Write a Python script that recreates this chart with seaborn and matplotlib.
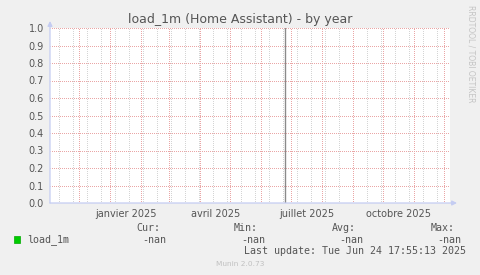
import numpy as np
import pandas as pd
import matplotlib
matplotlib.use("Agg")
import matplotlib.pyplot as plt
import matplotlib.dates as mdates
from matplotlib.patches import Rectangle
import seaborn as sns

# ---- data ----
title = "load_1m (Home Assistant) - by year"
series_name = "load_1m"
times = ["2024-11-02 00:00:00", "2025-06-24 17:55:13", "2025-12-07 00:00:00"]
load_1m = [np.nan, np.nan, np.nan]
last_update_time = "2025-06-24 17:55:13"
x_label_texts = ["janvier 2025", "avril 2025", "juillet 2025", "octobre 2025"]
x_label_months = ["2025-01-01", "2025-04-01", "2025-07-01", "2025-10-01"]
y_ticks = [0.0, 0.1, 0.2, 0.3, 0.4, 0.5, 0.6, 0.7, 0.8, 0.9, 1.0]
stat_headers = ["Cur:", "Min:", "Avg:", "Max:"]
stat_values = ["-nan", "-nan", "-nan", "-nan"]
last_update_text = "Last update: Tue Jun 24 17:55:13 2025"
footer_text = "Munin 2.0.73"
side_text = "RRDTOOL / TOBI OETIKER"

W, H = 481, 275
BG = "#f0f0f0"
MAJ = "#eaa6a6"
MIN = "#d4d4d4"
AX = "#c4ccf2"
TXT = "#555555"

sns.set_style("white")
plt.rcParams["font.family"] = ["DejaVu Sans"]
plt.rcParams["lines.scale_dashes"] = False

fig = plt.figure(figsize=(W / 100, H / 100), dpi=100, facecolor=BG)
L, R, T, B = 50, 450, 28, 203
ax = fig.add_axes([L / W, 1 - B / H, (R - L) / W, (B - T) / H])
ax.set_facecolor("white")

df = pd.DataFrame({"time": pd.to_datetime(times, format="%Y-%m-%d %H:%M:%S"), series_name: load_1m})
start = pd.Timestamp("2024-11-02")
end = start + pd.Timedelta(days=400)

sns.lineplot(data=df, x="time", y=series_name, ax=ax, color="#00cc00", legend=False)

ax.set_xlim(start, end)
ax.set_ylim(0, 1)
for s in ax.spines.values():
    s.set_visible(False)

px = 0.72  # one pixel in points
dash = (0.5 * px, (px, px))
lw = px
# horizontal grid
for y in y_ticks[1:]:
    ax.axhline(y, color=MAJ, lw=lw, ls=dash, zorder=1)
# minor vertical grid (every 2 weeks, Mondays)
mref = pd.Timestamp("2025-06-23")
d = mref
while d > start:
    d -= pd.Timedelta(days=14)
d += pd.Timedelta(days=14)
minor_days = []
while d < end:
    minor_days.append(d)
    d += pd.Timedelta(days=14)
for d in minor_days:
    ax.axvline(d, color=MIN, lw=lw, ls=dash, zorder=1)
# major month grid
months = pd.date_range("2024-12-01", "2025-12-01", freq="MS")
for d in months:
    ax.axvline(d, color=MAJ, lw=lw, ls=dash, zorder=1.5)

# last update marker
ax.axvline(pd.Timestamp(last_update_time), color="#8a8a8a", lw=1.0, zorder=3)

# ticks
ax.set_xticks(months)
ax.set_xticklabels([""] * len(months))
lab_pos = [pd.Timestamp(m) + pd.Timedelta(days=16) for m in x_label_months]
ax.set_xticks(lab_pos, minor=True)
ax.set_xticklabels(x_label_texts, minor=True)
ax.tick_params(axis="x", which="major", length=2.5, width=0.7, color=MAJ, direction="out")
ax.tick_params(axis="x", which="minor", length=0, pad=4, labelsize=7, labelcolor=TXT)
ax.set_yticks(y_ticks)
ax.set_yticklabels([f"{v:.1f}" for v in y_ticks])
ax.tick_params(axis="y", length=1.5, width=0.7, color=MAJ, pad=3, labelsize=7, labelcolor=TXT)
ax.set_xlabel("")
ax.set_ylabel("")

# axes lines with arrows
ax.annotate("", xy=(1.0175, 0), xytext=(0, 0), xycoords="axes fraction",
            arrowprops=dict(arrowstyle="-|>", color=AX, lw=0.9, mutation_scale=7, shrinkA=0, shrinkB=0),
            annotation_clip=False, zorder=5)
ax.annotate("", xy=(0, 1.04), xytext=(0, 0), xycoords="axes fraction",
            arrowprops=dict(arrowstyle="-|>", color=AX, lw=0.9, mutation_scale=7, shrinkA=0, shrinkB=0),
            annotation_clip=False, zorder=5)

# title & side text
fig.text(240.5 / W, 1 - 19.5 / H, title, ha="center", va="center", fontsize=9, color=TXT)
fig.text(471 / W, 1 - 5 / H, side_text, ha="center", va="top", rotation=270,
         fontsize=5.5, color="#c4c4c4")

# legend area
mono = "DejaVu Sans Mono"
fig.patches.append(Rectangle((14 / W, 1 - 243 / H), 6 / W, 7 / H, transform=fig.transFigure,
                             facecolor="#00cc00", edgecolor="#00aa00", lw=0.5))
fig.text(27 / W, 1 - 240 / H, series_name, ha="left", va="center", fontsize=7.2,
         family=mono, color=TXT)
head_right = [160, 258, 356, 455]
val_right = [166, 265, 363, 461]
for h, x in zip(stat_headers, head_right):
    fig.text(x / W, 1 - 228 / H, h, ha="right", va="center", fontsize=7.2, family=mono, color=TXT)
for v, x in zip(stat_values, val_right):
    fig.text(x / W, 1 - 240 / H, v, ha="right", va="center", fontsize=7.2, family=mono, color=TXT)
fig.text(466 / W, 1 - 251.5 / H, last_update_text, ha="right", va="center", fontsize=7.2,
         family=mono, color=TXT)
fig.text(240 / W, 1 - 264 / H, footer_text, ha="center", va="center", fontsize=5.3,
         color="#c0c0c0")

fig.savefig("out.png", dpi=100, facecolor=BG)
